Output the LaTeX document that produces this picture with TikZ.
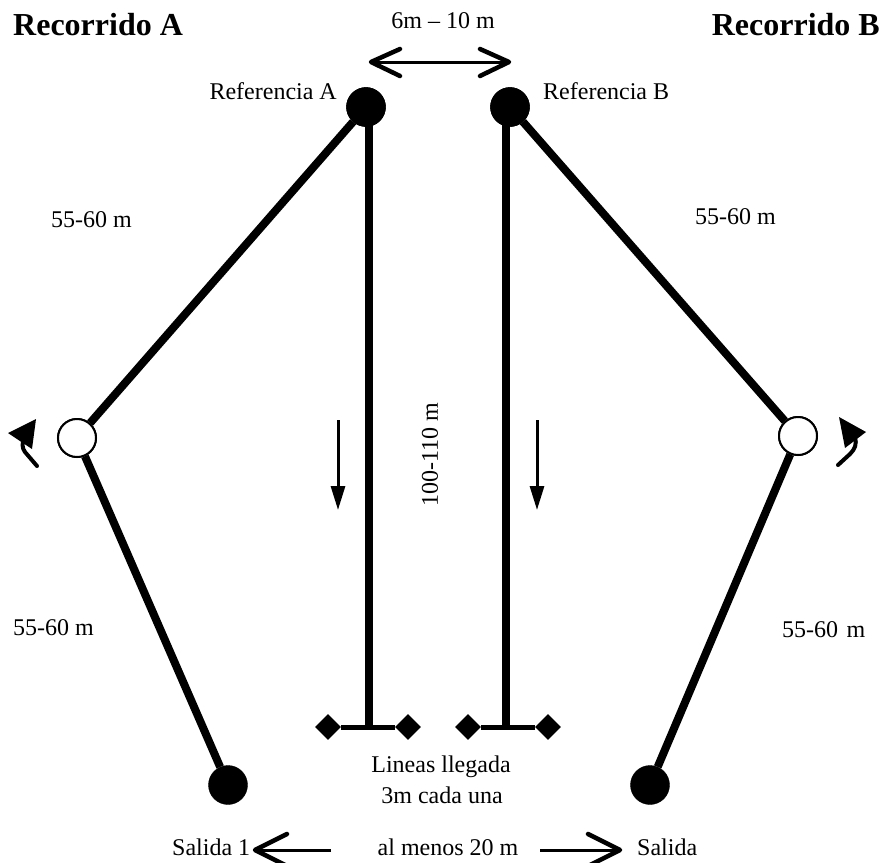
\documentclass[tikz,border=0pt]{standalone}
\usepackage{fontspec}
\setmainfont{Liberation Serif}
\usetikzlibrary{arrows.meta,shapes.geometric}
\begin{document}
\begin{tikzpicture}[x=1pt,y=-1pt,
  lbl/.style={inner sep=0pt,font=\fontsize{24}{28}\selectfont},
  ttl/.style={inner sep=0pt,font=\fontsize{32}{36}\selectfont\bfseries},
  post/.style={circle,fill=black,draw=black,minimum size=39pt,inner sep=0pt},
  turn/.style={circle,fill=white,draw=black,line width=2pt,minimum size=38pt,inner sep=0pt},
  tip/.style={diamond,fill=black,minimum width=26pt,minimum height=26pt,inner sep=0pt},
  track/.style={line width=8pt},
  bar/.style={line width=5pt},
  shaft/.style={line width=3pt},
  barbline/.style={line width=4.5pt,line cap=round,line join=round},
  downarrow/.style={line width=3pt,-{Triangle[length=24pt,width=14pt]}},
  stem/.style={line width=4pt,line cap=round},
  head/.style={fill=black}
]
\useasboundingbox (0,0) rectangle (880,862);

% nodes
\node[post] (refA) at (366,107) {};
\node[post] (refB) at (510,107) {};
\node[turn] (turnA) at (77,438) {};
\node[turn] (turnB) at (798,436) {};
\node[post] (startA) at (228,785) {};
\node[post] (startB) at (650,785) {};
\coordinate (fA) at (369,727);
\coordinate (fB) at (506,727);
\node[tip] (dA1) at (328,727) {};
\node[tip] (dA2) at (408,727) {};
\node[tip] (dB1) at (468,727) {};
\node[tip] (dB2) at (548,727) {};

% tracks
\draw[track] (refA) -- (turnA);
\draw[track] (turnA) -- (startA);
\draw[track] (refB) -- (turnB);
\draw[track] (turnB) -- (startB);
\coordinate (refAs) at (369,110);
\coordinate (refBs) at (506,110);
\draw[track] (refAs) -- (fA);
\draw[track] (refBs) -- (fB);
\draw[bar] (dA1) -- (dA2);
\draw[bar] (dB1) -- (dB2);

% redraw circles on top
\node[post] at (refA) {};
\node[post] at (refB) {};
\node[turn] at (turnA) {};
\node[turn] at (turnB) {};

% top double arrow
\coordinate (gapL) at (371,62);
\coordinate (gapR) at (509,62);
\draw[shaft] (gapL) -- (gapR);
\draw[barbline] (400,49) -- (gapL) -- (400,76);
\draw[barbline] (480,49) -- (gapR) -- (480,76);

% direction arrows
\coordinate (dnA1) at (338,420);
\coordinate (dnA2) at (338,510);
\coordinate (dnB1) at (537,420);
\coordinate (dnB2) at (537,510);
\draw[downarrow] (dnA1) -- (dnA2);
\draw[downarrow] (dnB1) -- (dnB2);

% turning arrows
\draw[stem] (37,466) -- (25,452) .. controls (22,448) and (22,444) .. (24,437);
\fill[head] (8,433) -- (36,419) -- (32,449) -- cycle;
\draw[stem] (838,465) -- (850,454) .. controls (855,449) and (857,444) .. (855,437);
\fill[head] (839,417) -- (866,432) -- (845,448) -- cycle;

% bottom arrows
\coordinate (sL1) at (331,850);
\coordinate (sL2) at (255,850);
\coordinate (sR1) at (540,850);
\coordinate (sR2) at (620,850);
\draw[shaft] (sL1) -- (sL2);
\draw[barbline] (287,834) -- (sL2) -- (287,866);
\draw[shaft] (sR1) -- (sR2);
\draw[barbline] (588,834) -- (sR2) -- (588,866);

% texts
\node[ttl,anchor=base west] (tA) at (13,35) {Recorrido A};
\node[ttl,anchor=base east] (tB) at (880,35) {Recorrido B};
\node[lbl,anchor=base] (gap) at (443,28) {6m – 10 m};
\node[lbl,anchor=base east] (lrefA) at (337,99) {Referencia A};
\node[lbl,anchor=base west] (lrefB) at (543,99) {Referencia B};
\node[lbl,anchor=base west] (d1) at (51,227) {55-60 m};
\node[lbl,anchor=base west] (d2) at (695,224) {55-60 m};
\node[lbl,anchor=base west] (d3) at (13,635) {55-60 m};
\node[lbl,anchor=base west] (d4) at (782,637) {55-60\hspace{0.35em}m};
\node[lbl,rotate=90] (len) at (430,455) {100-110 m};
\node[lbl,anchor=base] (fin1) at (441,772) {Lineas llegada};
\node[lbl,anchor=base] (fin2) at (442,803) {3m cada una};
\node[lbl,anchor=base west] (s1) at (172,855) {Salida 1};
\node[lbl,anchor=base] (dist) at (448,855) {al menos 20 m};
\node[lbl,anchor=base west] (s2) at (637,855) {Salida};
\end{tikzpicture}
\end{document}
